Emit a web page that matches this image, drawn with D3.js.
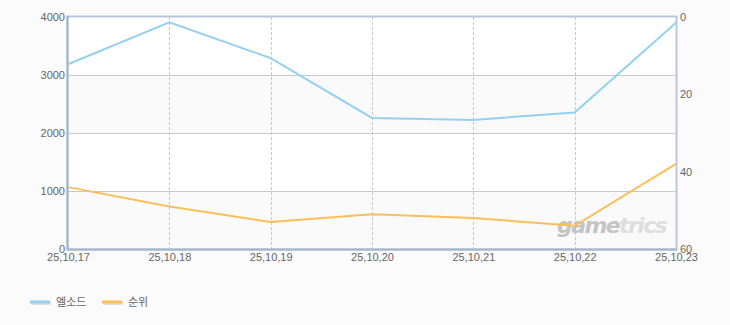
<!DOCTYPE html>
<html>
<head>
<meta charset="utf-8">
<script src="https://cdn.jsdelivr.net/npm/d3@7"></script>
<style>
  body { margin: 0; background: #fbfbfb; }
  svg text { font-family: "Noto Sans CJK KR", "DejaVu Sans", sans-serif; fill: #666; }
</style>
</head>
<body>
<svg class="chart" width="730" height="325"></svg>
<script>
// data
var dates = ["25,10,17", "25,10,18", "25,10,19", "25,10,20", "25,10,21", "25,10,22", "25,10,23"];
var elswordValues = [3185, 3910, 3290, 2260, 2225, 2355, 3900];
var rankValues = [44, 49, 53, 51, 52, 54, 38];
var leftTicks = [0, 1000, 2000, 3000, 4000];
var rightTicks = [0, 20, 40, 60];
var seriesNames = ["엘소드", "순위"];
var seriesColors = ["#94d1f1", "#fbbf5a"];

const plotLeft = 68, plotRight = 676, plotTop = 17, plotBottom = 249;

var svg = d3.select(".chart");

var xScale = d3.scalePoint().domain(dates).range([plotLeft, plotRight]);
var yLeft = d3.scaleLinear().domain([0, 4000]).range([plotBottom, plotTop]);
var yRight = d3.scaleLinear().domain([0, 60]).range([plotTop, plotBottom]);

// plot background + alternate bands
svg.append("rect")
    .attr("x", plotLeft).attr("y", plotTop)
    .attr("width", plotRight - plotLeft).attr("height", plotBottom - plotTop)
    .attr("fill", "#fff");

svg.selectAll(".band")
    .data([[2000, 3000], [0, 1000]])
    .enter().append("rect")
    .attr("x", plotLeft)
    .attr("y", function(d) { return yLeft(d[1]); })
    .attr("width", plotRight - plotLeft)
    .attr("height", function(d) { return yLeft(d[0]) - yLeft(d[1]); })
    .attr("fill", "#fafafa");

// horizontal grid
svg.selectAll(".hgrid")
    .data(leftTicks.slice(1, -1))
    .enter().append("line")
    .attr("x1", plotLeft).attr("x2", plotRight)
    .attr("y1", function(d) { return Math.round(yLeft(d)) + 0.5; })
    .attr("y2", function(d) { return Math.round(yLeft(d)) + 0.5; })
    .attr("stroke", "#c8c8c8");

// vertical dashed grid
svg.selectAll(".vgrid")
    .data(dates.slice(1, -1))
    .enter().append("line")
    .attr("x1", function(d) { return Math.round(xScale(d)) + 0.5; })
    .attr("x2", function(d) { return Math.round(xScale(d)) + 0.5; })
    .attr("y1", plotTop).attr("y2", plotBottom)
    .attr("stroke", "#c8c8c8")
    .attr("stroke-dasharray", "3,2");

// watermark
var wm = svg.append("text")
    .attr("x", 557).attr("y", 233)
    .style("font-family", "'DejaVu Sans', sans-serif")
    .style("font-size", "22px")
    .style("font-weight", "bold")
    .style("font-style", "italic")
    .style("letter-spacing", "-1.6px");
wm.append("tspan").text("game").style("fill", "#c4c4c4");
wm.append("tspan").text("trics").style("fill", "#dedede");

// lines
var leftLine = d3.line()
    .x(function(d, i) { return xScale(dates[i]); })
    .y(function(d) { return yLeft(d); });
var rightLine = d3.line()
    .x(function(d, i) { return xScale(dates[i]); })
    .y(function(d) { return yRight(d); });

svg.append("path")
    .datum(elswordValues)
    .attr("d", leftLine)
    .attr("fill", "none")
    .attr("stroke", seriesColors[0])
    .attr("stroke-width", 2);

svg.append("path")
    .datum(rankValues)
    .attr("d", rightLine)
    .attr("fill", "none")
    .attr("stroke", seriesColors[1])
    .attr("stroke-width", 2);

// frame
svg.append("rect")
    .attr("x", plotLeft - 0.5).attr("y", plotTop - 0.5)
    .attr("width", plotRight - plotLeft + 1).attr("height", plotBottom - plotTop + 1)
    .attr("fill", "none")
    .attr("stroke", "#b8c8da")
    .attr("stroke-width", 2);
svg.append("line")
    .attr("x1", plotLeft - 0.5).attr("x2", plotLeft - 0.5)
    .attr("y1", plotTop - 1).attr("y2", plotBottom + 1)
    .attr("stroke", "#a5b5c8").attr("stroke-width", 2);
svg.append("line")
    .attr("x1", plotLeft - 1).attr("x2", plotRight + 1)
    .attr("y1", plotBottom + 0.5).attr("y2", plotBottom + 0.5)
    .attr("stroke", "#a5b5c8").attr("stroke-width", 2);

// axes (labels only)
var yAxisLeft = d3.axisLeft(yLeft).tickValues(leftTicks).tickFormat(d3.format("d")).tickSize(0).tickPadding(2);
var gL = svg.append("g")
    .attr("transform", "translate(" + (plotLeft - 1) + ",0)")
    .call(yAxisLeft);

var yAxisRight = d3.axisRight(yRight).tickValues(rightTicks).tickFormat(d3.format("d")).tickSize(0).tickPadding(3);
var gR = svg.append("g")
    .attr("transform", "translate(" + (plotRight + 1) + ",0)")
    .call(yAxisRight);

var xAxis = d3.axisBottom(xScale).tickSize(0).tickPadding(4);
var gX = svg.append("g")
    .attr("transform", "translate(0," + plotBottom + ")")
    .call(xAxis);

[gL, gR, gX].forEach(function(g) {
    g.select(".domain").remove();
    g.selectAll("text")
        .style("font-size", "11px")
        .style("font-family", "'Liberation Sans', sans-serif")
        .attr("fill", "#666");
});

// legend
var legend = svg.selectAll(".legend")
    .data(seriesNames)
    .enter().append("g")
    .attr("transform", function(d, i) { return "translate(" + (30 + i * 72) + ",302)"; });

legend.append("line")
    .attr("x1", 1).attr("x2", 21).attr("y1", 1.5).attr("y2", 1.5)
    .attr("stroke", "#ddd").attr("stroke-width", 3);
legend.append("line")
    .attr("x1", 0).attr("x2", 20).attr("y1", 0).attr("y2", 0)
    .attr("stroke", function(d, i) { return seriesColors[i]; })
    .attr("stroke-width", 3);
legend.append("text")
    .attr("x", 26).attr("y", 4)
    .style("font-size", "11px")
    .text(function(d) { return d; });
</script>
</body>
</html>
